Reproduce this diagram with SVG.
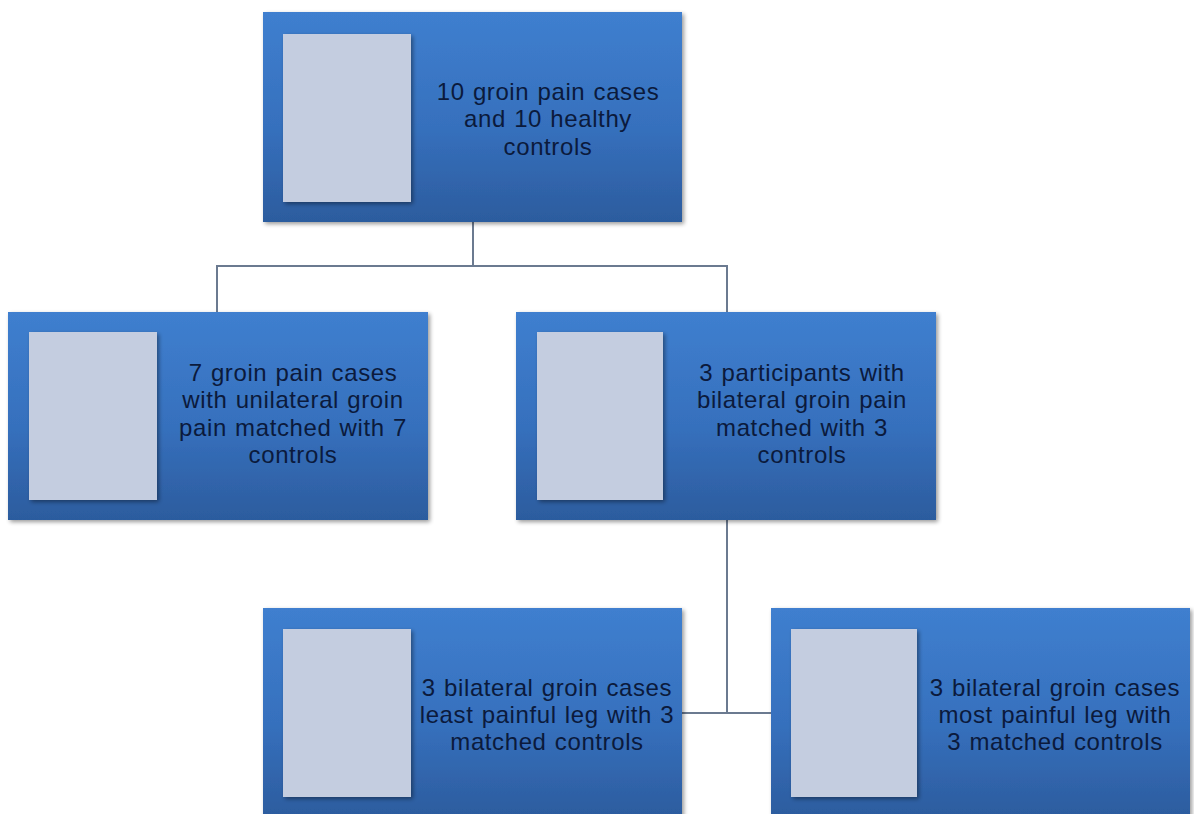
<svg xmlns="http://www.w3.org/2000/svg" width="1194" height="814" viewBox="0 0 1194 814">
<defs>
<linearGradient id="g" x1="0" y1="0" x2="0" y2="1">
<stop offset="0" stop-color="#3f7fcf"/>
<stop offset="0.55" stop-color="#3670bd"/>
<stop offset="1" stop-color="#2c5c9e"/>
</linearGradient>
<filter id="sh" x="-5%" y="-5%" width="115%" height="115%">
<feGaussianBlur in="SourceAlpha" stdDeviation="2"/>
<feOffset dx="2" dy="2"/>
<feComponentTransfer><feFuncA type="linear" slope="0.4"/></feComponentTransfer>
<feMerge><feMergeNode/><feMergeNode in="SourceGraphic"/></feMerge>
</filter>
</defs>
<style>
.box{fill:url(#g);filter:url(#sh)}
.pic{fill:#c4cde0;filter:url(#sh)}
.t{font-family:"Liberation Sans",Arial,sans-serif;font-size:24px;letter-spacing:0.6px;word-spacing:1px;fill:#0b1a3c;text-anchor:middle}
.c{fill:none;stroke:#6b7a90;stroke-width:2}
</style>
<rect width="1194" height="814" fill="#ffffff"/>
<g id="connectors">
<path class="c" d="M473 222 V266 M217 312 V266 H727 V312"/>
<path class="c" d="M727 520 V713 M682 713 H771"/>
</g>
<g id="n1">
<rect class="box" x="263" y="12" width="419" height="210"/>
<rect class="pic" x="283" y="34" width="128" height="168"/>
<text class="t" x="548" y="100">10 groin pain cases</text>
<text class="t" x="548" y="127">and 10 healthy</text>
<text class="t" x="548" y="155">controls</text>
</g>
<g id="n2">
<rect class="box" x="8" y="312" width="420" height="208"/>
<rect class="pic" x="29" y="332" width="128" height="168"/>
<text class="t" x="293" y="381">7 groin pain cases</text>
<text class="t" x="293" y="408">with unilateral groin</text>
<text class="t" x="293" y="436">pain matched with 7</text>
<text class="t" x="293" y="463">controls</text>
</g>
<g id="n3">
<rect class="box" x="516" y="312" width="420" height="208"/>
<rect class="pic" x="537" y="332" width="126" height="168"/>
<text class="t" x="802" y="381">3 participants with</text>
<text class="t" x="802" y="408">bilateral groin pain</text>
<text class="t" x="802" y="436">matched with 3</text>
<text class="t" x="802" y="463">controls</text>
</g>
<g id="n4">
<rect class="box" x="263" y="608" width="419" height="210"/>
<rect class="pic" x="283" y="629" width="128" height="168"/>
<text class="t" x="547" y="696">3 bilateral groin cases</text>
<text class="t" x="547" y="723">least painful leg with 3</text>
<text class="t" x="547" y="750">matched controls</text>
</g>
<g id="n5">
<rect class="box" x="771" y="608" width="419" height="210"/>
<rect class="pic" x="791" y="629" width="126" height="168"/>
<text class="t" x="1055" y="696">3 bilateral groin cases</text>
<text class="t" x="1055" y="723">most painful leg with</text>
<text class="t" x="1055" y="750">3 matched controls</text>
</g>
</svg>
